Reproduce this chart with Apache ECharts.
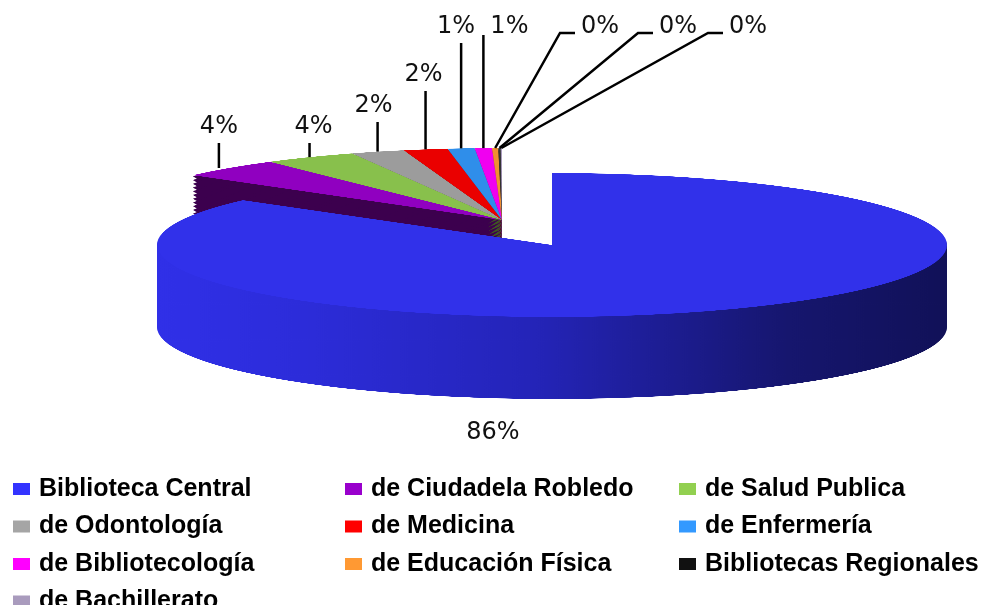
<!DOCTYPE html>
<html>
<head>
<meta charset="utf-8">
<script src="https://cdn.jsdelivr.net/npm/echarts@6/dist/echarts.min.js"></script>
<style>
html,body{margin:0;padding:0;background:#fff;overflow:hidden;width:983px;height:605px;}
#pie{position:absolute;left:0;top:0;width:983px;height:2300px;transform-origin:0 0;}
#main{position:absolute;left:0;top:0;width:983px;height:605px;}
</style>
</head>
<body>
<div id="pie"></div>
<div id="main"></div>
<script>
// ---- data ----
const CATEGORIES = ['Biblioteca Central','de Ciudadela Robledo','de Salud Publica','de Odontología','de Medicina','de Enfermería','de Bibliotecología','de Educación Física','Bibliotecas Regionales','de Bachillerato'];
const VALUES = [85.7, 4.3, 3.8, 2.2, 1.8, 1.1, 0.7, 0.25, 0.1, 0.05];

// ---- styles ----
const LEGEND_COLORS = ['#3333ff','#9900cc','#92d050','#a5a5a5','#ff0000','#3399ff','#ff00ff','#ff9933','#111111','#a99bbd'];
const TOP_COLORS = ['#3131ea','#9000c0','#88c04c','#9c9c9c','#ea0000','#2f8eea','#f000f0','#f09030','#333333','#a99bbd'];
const SIDE_COLORS = [null,'#3c004e','#3d5a1f','#484848','#700000','#1a4a78','#8a008a','#8a5018','#101010','#6c607c'];
const BLUE_SIDE = {type:'linear',x:0,y:0,x2:1,y2:0,colorStops:[
  {offset:0,color:'#3030e8'},{offset:0.2,color:'#2c2cd8'},{offset:0.48,color:'#2424b8'},
  {offset:0.8,color:'#16166e'},{offset:1,color:'#111158'}]};

// ---- geometry (screen px) ----
const RX = 395, RY = 72, K = RY / RX;
const CX = 552, CY = 245, DEPTH = 82;
const SMALL_SHIFT = [-50, -25];
const N_COPIES = 60;

const pieEl = document.getElementById('pie');
pieEl.style.transform = 'scaleY(' + K + ')';
const pieChart = echarts.init(pieEl, null, {renderer:'canvas'});

function pieSeries(center, isMember, colorFn, z) {
  return {
    type:'pie', silent:true, animation:false, z:z,
    radius: RX, center: center, startAngle: 90, clockwise: true,
    label:{show:false}, labelLine:{show:false}, emphasis:{disabled:true},
    itemStyle:{borderWidth:0},
    data: VALUES.map((v,i)=>({name:CATEGORIES[i], value:v,
      itemStyle:{color: isMember(i) ? colorFn(i) : 'rgba(0,0,0,0)', borderWidth:0}}))
  };
}
const isBlue = i => i === 0;
const isSmall = i => i !== 0;
const series = [];
const blueC = [CX, CY / K];
const smallC = [CX + SMALL_SHIFT[0], (CY + SMALL_SHIFT[1]) / K];
for (let j = N_COPIES; j >= 1; j--) {
  const off = j * (DEPTH / K) / N_COPIES;
  series.push(pieSeries([blueC[0], blueC[1] + off], isBlue, () => BLUE_SIDE, 1));
  series.push(pieSeries([smallC[0], smallC[1] + off], isSmall, i => SIDE_COLORS[i], 2));
}
series.push(pieSeries(smallC, isSmall, i => TOP_COLORS[i], 3));
series.push(pieSeries(blueC, isBlue, i => TOP_COLORS[i], 4));
pieChart.setOption({animation:false, series: series});

// ---- labels + legend overlay ----
const total = VALUES.reduce((a,b)=>a+b,0);
function anchorOf(i) {
  let cum = 0;
  for (let j = 0; j < i; j++) cum += VALUES[j];
  const th = 2 * Math.PI * (cum + VALUES[i] / 2) / total;
  return [CX + SMALL_SHIFT[0] + RX * Math.sin(th), CY + SMALL_SHIFT[1] - RY * Math.cos(th)];
}
// label placement (layout only)
const LABEL_LAYOUT = [
  {x:493, y:433, mode:'none'},
  {y:127, mode:'up', dx:-10, lx:-10}, {y:127, mode:'up', dx:4}, {y:106, mode:'up', dx:-4}, {y:75, mode:'up', dx:-2},
  {y:27, mode:'up', dx:-5}, {y:27, mode:'side', dx:26},
  {x:600, y:27, mode:'bend'}, {x:678, y:27, mode:'bend'}, {x:748, y:27, mode:'bend'}
];

const main = echarts.init(document.getElementById('main'));
const LEG_LEFT = [13, 345, 679];
main.setOption({
  animation:false,
  legend: [0,1,2].map(c => ({
    orient:'vertical', left: LEG_LEFT[c], top: 474, height: 300, padding:0, itemGap: 7.5,
    itemWidth:17, itemHeight:12, icon:'rect', selectedMode:false,
    textStyle:{fontFamily:'Liberation Sans', fontSize:25, fontWeight:'bold', color:'#000', lineHeight:30, padding:[0,0,0,4]},
    data: CATEGORIES.filter((_, i) => i % 3 === c)
  })),
  series: [{
    type:'pie', silent:true, center:[-200,-200], radius:2, startAngle:90, clockwise:true,
    avoidLabelOverlap:false,
    data: VALUES.map((v,i)=>({name:CATEGORIES[i], value:v,
      itemStyle:{color:LEGEND_COLORS[i]},
      labelLine:{show: i !== 0}})),
    label:{show:true, position:'outer', formatter: p => Math.round(p.percent) + '%',
      fontFamily:'DejaVu Sans', fontSize:24, color:'#111'},
    labelLine:{show:true, lineStyle:{color:'#000', width:2.5}},
    labelLayout: function (params) {
      const i = params.dataIndex;
      const L = LABEL_LAYOUT[i];
      if (L.mode === 'none') return {x:L.x, y:L.y, align:'center', verticalAlign:'middle'};
      const a = anchorOf(i);
      const lx = a[0] + (L.lx || 0);
      let x, pts;
      if (L.mode === 'up') {
        x = a[0] + (L.dx || 0);
        pts = [[lx, a[1]], [lx, L.y + 16], [lx, L.y + 16]];
      } else if (L.mode === 'side') {
        x = a[0] + L.dx;
        pts = [[a[0], a[1]], [a[0], L.y + 8], [a[0], L.y + 8]];
      } else {
        x = L.x;
        pts = [[a[0], a[1]], [L.x - 40, L.y + 6], [L.x - 25, L.y + 6]];
      }
      return {x:x, y:L.y, align:'center', verticalAlign:'middle', labelLinePoints: pts};
    }
  }]
});
</script>
</body>
</html>
